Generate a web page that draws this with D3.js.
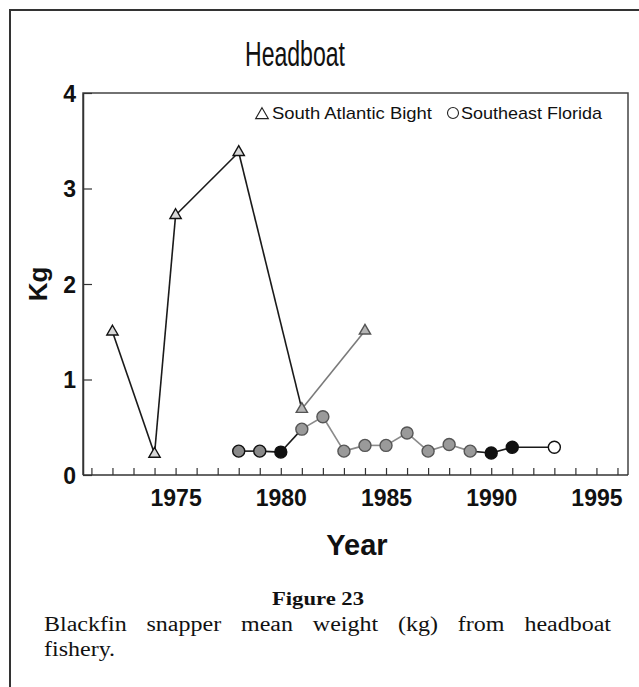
<!DOCTYPE html>
<html><head><meta charset="utf-8">
<script src="https://cdn.jsdelivr.net/npm/d3@7"></script>
<style>html,body{margin:0;padding:0;background:#fff;overflow:hidden}</style>
</head><body>
<svg id="c" width="639" height="687"></svg>
<script>
// ---- data ----
const sabYears   = [1972, 1974, 1975, 1978, 1981, 1984];
const sabValues  = [1.50, 0.22, 2.72, 3.38, 0.69, 1.51];
const sefYears   = [1978, 1979, 1980, 1981, 1982, 1983, 1984, 1985, 1986, 1987, 1988, 1989, 1990, 1991, 1993];
const sefValues  = [0.25, 0.25, 0.24, 0.48, 0.61, 0.25, 0.31, 0.31, 0.44, 0.25, 0.32, 0.25, 0.23, 0.29, 0.29];
const xTickLabels = [1975, 1980, 1985, 1990, 1995];
const yTickLabels = [0, 1, 2, 3, 4];
const seriesNames = ["South Atlantic Bight", "Southeast Florida"];

const svg = d3.select("#c");
const W = 639, H = 687;
svg.append("rect").attr("width", W).attr("height", H).attr("fill", "#fff");
// outer frame
svg.append("rect").attr("x", 10).attr("y", 10).attr("width", 640).attr("height", 700)
  .attr("fill", "none").attr("stroke", "#333").attr("stroke-width", 2);

const pLeft = 83, pRight = 628, pTop = 93, pBottom = 475;
const x = d3.scaleLinear().domain([1970.6, 1996.5]).range([pLeft, pRight]);
const y = d3.scaleLinear().domain([0, 4]).range([pBottom, pTop]);

const sans = "'Liberation Sans', Arial, Helvetica, sans-serif";
const serif = "'Liberation Serif', 'Times New Roman', serif";

// title (condensed face)
svg.append("text").attr("x", 295).attr("y", 66).attr("text-anchor", "middle")
  .attr("font-family", sans).attr("font-size", 35).attr("fill", "#111")
  .attr("textLength", 100).attr("lengthAdjust", "spacingAndGlyphs").text("Headboat");

// plot box
const g = svg.append("g");
g.append("path").attr("d", `M${pLeft},${pBottom}V${pTop}H${pRight}V${pBottom}`)
  .attr("fill", "none").attr("stroke", "#444").attr("stroke-width", 1.5);

// x axis: yearly ticks pointing up
const xAxis = d3.axisBottom(x)
  .tickValues(d3.range(1971, 1997))
  .tickSizeInner(-7).tickSizeOuter(0)
  .tickFormat(d => xTickLabels.includes(d) ? d : "");
const gx = g.append("g").attr("transform", `translate(0,${pBottom})`).call(xAxis);
gx.select(".domain").attr("d", `M${pLeft},0H${pRight}`).attr("stroke", "#333").attr("stroke-width", 1.5);
gx.selectAll(".tick line").attr("stroke", "#333").attr("stroke-width", 1.2);
gx.selectAll(".tick text").attr("y", 31).attr("dy", 0)
  .attr("font-family", sans).attr("font-weight", "bold").attr("font-size", 23).attr("fill", "#111");

// y axis: ticks pointing right
const yAxis = d3.axisLeft(y).tickValues(yTickLabels).tickSizeInner(-9).tickSizeOuter(0).tickFormat(d3.format("d"));
const gy = g.append("g").attr("transform", `translate(${pLeft},0)`).call(yAxis);
gy.select(".domain").attr("stroke", "#333").attr("stroke-width", 1.5);
gy.selectAll(".tick line").attr("stroke", "#333").attr("stroke-width", 1.2);
gy.selectAll(".tick text").attr("x", -7).attr("dy", "0.36em")
  .attr("font-family", sans).attr("font-weight", "bold").attr("font-size", 23).attr("fill", "#111");

// axis titles
svg.append("text").attr("x", 357).attr("y", 555).attr("text-anchor", "middle")
  .attr("font-family", sans).attr("font-weight", "bold").attr("font-size", 29).attr("fill", "#111").text("Year");
svg.append("text").attr("transform", "translate(47,284) rotate(-90)").attr("text-anchor", "middle")
  .attr("font-family", sans).attr("font-weight", "bold").attr("font-size", 26).attr("fill", "#111").text("Kg");

// styling rule: scanned region 1981-1989 appears faded
const faded = yr => yr >= 1981 && yr <= 1989;

const sab = sabYears.map((d, i) => ({year: d, value: sabValues[i]}));
const sef = sefYears.map((d, i) => ({year: d, value: sefValues[i]}));

function drawSegments(data, dark, light) {
  for (let i = 0; i < data.length - 1; i++) {
    const a = data[i], b = data[i + 1];
    g.append("line")
      .attr("x1", x(a.year)).attr("y1", y(a.value))
      .attr("x2", x(b.year)).attr("y2", y(b.value))
      .attr("stroke", faded(a.year) && faded(b.year) ? light : dark)
      .attr("stroke-width", 1.6);
  }
}
drawSegments(sab, "#1a1a1a", "#7a7a7a");
drawSegments(sef, "#1a1a1a", "#8a8a8a");

// triangles
g.selectAll(".tri").data(sab).join("path")
  .attr("d", d3.symbol(d3.symbolTriangle, 55))
  .attr("transform", d => `translate(${x(d.year)},${y(d.value)})`)
  .attr("fill", d => faded(d.year) ? "#b5b5b5" : "#d8d8d8")
  .attr("stroke", d => faded(d.year) ? "#555" : "#111").attr("stroke-width", 1.4);

// circles
const circFill = d => faded(d.year) ? "#9a9a9a"
  : (d.year === 1980 || d.year === 1990 || d.year === 1991) ? "#111"
  : d.year === 1993 ? "#fff" : "#8a8a8a";
g.selectAll(".cir").data(sef).join("circle")
  .attr("cx", d => x(d.year)).attr("cy", d => y(d.value)).attr("r", 6)
  .attr("fill", circFill)
  .attr("stroke", d => faded(d.year) ? "#555" : "#111").attr("stroke-width", 1.4);

// legend
const lg = svg.append("g").attr("font-family", sans).attr("font-size", 17).attr("fill", "#111");
lg.append("path").attr("d", d3.symbol(d3.symbolTriangle, 70)).attr("transform", "translate(262,115)")
  .attr("fill", "none").attr("stroke", "#222").attr("stroke-width", 1.1);
lg.append("text").attr("x", 272).attr("y", 119).attr("textLength", 160).attr("lengthAdjust", "spacingAndGlyphs").text(seriesNames[0]);
lg.append("circle").attr("cx", 453).attr("cy", 113).attr("r", 5.5)
  .attr("fill", "none").attr("stroke", "#222").attr("stroke-width", 1.1);
lg.append("text").attr("x", 461).attr("y", 119).attr("textLength", 141).attr("lengthAdjust", "spacingAndGlyphs").text(seriesNames[1]);

// caption
svg.append("text").attr("x", 318).attr("y", 605).attr("text-anchor", "middle")
  .attr("font-family", serif).attr("font-weight", "bold").attr("font-size", 19).attr("fill", "#111")
  .attr("textLength", 92).attr("lengthAdjust", "spacingAndGlyphs").text("Figure 23");

const capSize = 20, capStretch = 1.2;
function word(w, xb, yb) {
  const t = svg.append("text").attr("x", xb).attr("y", yb)
    .attr("font-family", serif).attr("font-size", capSize).attr("fill", "#111").text(w);
  const nat = t.node().getComputedTextLength();
  t.attr("textLength", nat * capStretch).attr("lengthAdjust", "spacingAndGlyphs");
  return t;
}
function justify(line, x0, x1, yb) {
  const words = line.split(" ");
  const nodes = words.map(w => word(w, 0, yb));
  const widths = nodes.map(n => +n.attr("textLength"));
  const gap = (x1 - x0 - d3.sum(widths)) / (words.length - 1);
  let cx = x0;
  nodes.forEach((n, i) => { n.attr("x", cx); cx += widths[i] + gap; });
}
justify("Blackfin snapper mean weight (kg) from headboat", 44, 611, 631);
word("fishery.", 44, 656);
</script>
</body></html>
